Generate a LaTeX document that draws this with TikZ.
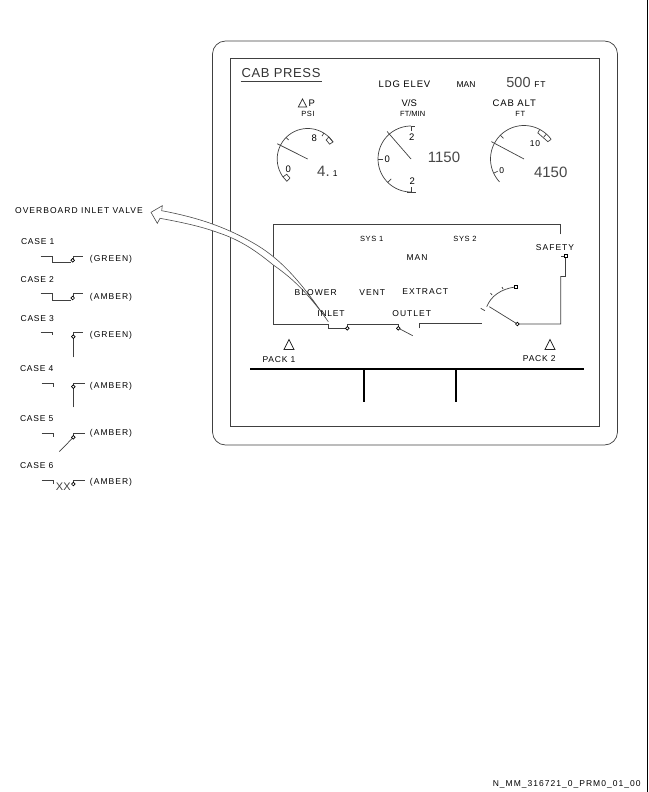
\documentclass[tikz,border=0pt]{standalone}
\usepackage{fontspec}
\setmainfont{Liberation Sans}
\newfontfamily\spA[LetterSpace=12]{Liberation Sans}
\newfontfamily\spB[LetterSpace=9]{Liberation Sans}
\newfontfamily\spC[LetterSpace=5]{Liberation Sans}
\newcommand\PP[4]{({#1+#3*cos(#4)},{#2-#3*sin(#4)})}
\newcommand\GArc[5]{\draw[ln] plot[smooth,domain=#4:#5,samples=40] ({#1+#3*cos(\x)},{#2-#3*sin(\x)});}
\newcommand\GTick[5]{\draw[ln] \PP{#1}{#2}{#3}{#5} -- \PP{#1}{#2}{#4}{#5};}
\newcommand\Tri[2]{\draw[ln,black!85] (#1-5,#2+5) -- (#1,#2-5) -- (#1+5,#2+5) -- cycle;}
\newcommand\TriS[2]{\draw[ln,black!85] (#1-4.2,#2+4) -- (#1,#2-4) -- (#1+4.2,#2+4) -- cycle;}
\newcommand\Knob[2]{\draw[ln,black,fill=white] (#1,#2) circle (1.8);}
\newcommand\Sq[2]{\draw[ln,black,fill=white] (#1-1.7,#2-1.7) rectangle (#1+1.7,#2+1.7);}
\tikzset{
  x=1pt,y=-1pt,
  ln/.style={line width=0.7pt,black!75},
  bar/.style={line width=2.3pt,black},
  tx/.style={inner sep=0pt,outer sep=0pt,anchor=center,black},
  fa/.style={tx,font=\spB\fontsize{7.5}{8}\selectfont},
  fb/.style={tx,font=\spA\fontsize{8.5}{9}\selectfont},
  fk/.style={tx,font=\spB\fontsize{8.5}{9}\selectfont},
  fc/.style={tx,font=\spB\fontsize{9.5}{10}\selectfont},
  fg/.style={tx,font=\fontsize{9.5}{10}\selectfont},
  fd/.style={tx,black!80,font=\spC\fontsize{13}{14}\selectfont},
  fe/.style={tx,black!72,font=\fontsize{15}{16}\selectfont},
}
\begin{document}
\begin{tikzpicture}
\useasboundingbox (0,0) rectangle (648,792);
% page edge and panel
\draw[line width=1pt,black] (647.3,0) -- (647.3,792);
\draw[ln,rounded corners=13pt] (212.5,41) rectangle (617.5,445);
\draw[ln] (230.5,58.5) rectangle (599,426);
% title
\node[fd] (title) at (281,73) {CAB PRESS};
\draw[ln] (240.5,81.7) -- (321.5,81.7);
\node[fc] (ldg) at (404.5,84.5) {LDG ELEV};
\node[fg,font=\fontsize{8.5}{9}\selectfont] (man1) at (466,85) {MAN};
\node[fe] (elev) at (518.5,82.5) {\fontsize{14.5}{15}\selectfont 500};
\node[fk] (elevft) at (540,85) {FT};
% gauge headers
\TriS{302.5}{103}
\node[fg] (dp) at (311.7,103.3) {P};
\node[fa] (psi) at (308,114.3) {PSI};
\node[fg] (vs) at (409.3,103.3) {V/S};
\node[tx,font=\fontsize{7.5}{8}\selectfont] (ftmin) at (412.7,114.3) {FT/MIN};
\node[fc] (cabalt) at (514.3,103.3) {CAB ALT};
\node[fa] (cabft) at (520.3,114.3) {FT};
% gauge 1
\GArc{307.7}{159}{30.5}{216}{34}
\GTick{307.7}{159}{0}{34}{153.4}
\GTick{307.7}{159}{27}{30.5}{135}
\GTick{307.7}{159}{27}{30.5}{58}
\draw[ln] \PP{307.7}{159}{30.5}{34} -- \PP{307.7}{159}{26.5}{34} -- \PP{307.7}{159}{26.5}{46} -- \PP{307.7}{159}{30.5}{46} -- cycle;
\draw[ln] \PP{307.7}{159}{30.5}{216} -- \PP{307.7}{159}{26}{216} -- \PP{307.7}{159}{26}{227} -- \PP{307.7}{159}{30.5}{227} -- cycle;
\node[fg] (g1a) at (288.3,169) {0};
\node[fg] (g1b) at (314.3,138.3) {8};
\node[fe] (g1c) at (323.5,171.5) {4.};
\node[fk] (g1d) at (335.3,173.3) {1};
% gauge 2
\GArc{411}{159}{33}{90}{270}
\GTick{411}{159}{0}{36.5}{131}
\GTick{411}{159}{28}{33}{90}
\GTick{411}{159}{28}{33}{180}
\GTick{411}{159}{28}{33}{225}
\GTick{411}{159}{28}{33}{270}
\draw[ln] (411,126) -- (415,126);
\draw[ln] (407,192) -- (416,192);
\node[fg] (g2a) at (411.7,136.7) {2};
\node[fg] (g2b) at (387.3,159.3) {0};
\node[fg] (g2c) at (412.3,181) {2};
\node[fe] (g2d) at (444,157.3) {1150};
% gauge 3
\GArc{524}{159}{33.5}{223}{36}
\GTick{524}{159}{0}{37}{152}
\GTick{524}{159}{29}{33.5}{135}
\GTick{524}{159}{29}{33.5}{205}
\draw[ln] \PP{524}{159}{33.5}{36} -- \PP{524}{159}{29.5}{36} -- \PP{524}{159}{29.5}{62} -- \PP{524}{159}{33.5}{62};
\GTick{524}{159}{29.5}{33.5}{48}
\node[fk] (g3a) at (501.7,170.7) {0};
\node[fk] (g3b) at (535,144) {10};
\node[fe] (g3c) at (550.7,172.3) {4150};
% system box
\draw[ln] (560.7,234.3) -- (560.7,224.3) -- (273.3,224.3) -- (273.3,324) -- (328.3,324) -- (328.3,328.3) -- (347.3,328.3) -- (347.3,324) -- (398.3,324) -- (398.3,328.3);
\draw[ln] (419,328.3) -- (419,323.5) -- (482.3,323.5);
\draw[ln] (400,329) -- (412.7,335.7);
\Knob{347.3}{328.3}
\Knob{398.3}{328.3}
\draw[ln] (560.7,276) -- (565.7,276) -- (565.7,256) -- (561,256);
\draw[ln] (560.7,276) -- (560.7,324) -- (517.3,324) -- (489.3,306.7);
\Sq{565.7}{256}
\Knob{517.3}{324}
\draw[ln] (480.7,308.3) -- (485,310.7);
\draw[ln] (486.7,306.7) .. controls (491,296) and (501,289) .. (515,287);
\draw[ln] (492,295) -- (490.5,293);
\draw[ln] (503,289) -- (502,287);
\Sq{516}{286.7}
% arrow
\draw[line width=0.6pt,black!70,fill=white] (151,212.3) -- (162.3,205.7) -- (161.7,210.7)
  .. controls (195,217) and (225,226) .. (256.7,245)
  .. controls (285,262) and (305,288) .. (328.3,321.7)
  .. controls (310,296) and (295,280) .. (273.3,265)
  .. controls (255,250) and (240,240) .. (218.3,232.7)
  .. controls (200,226) and (180,222) .. (160,218.3)
  -- (157.3,223.3) -- cycle;
% system labels
\node[fa] (s1) at (371.7,238.7) {SYS 1};
\node[fa] (s2) at (465,238.7) {SYS 2};
\node[fb] (man2) at (417,257.7) {MAN};
\node[fb] (safety) at (555,247.3) {SAFETY};
\node[fb] (blower) at (315.7,292.7) {BLOWER};
\node[fb] (vent) at (372.3,292.7) {VENT};
\node[fb] (extract) at (425.3,291.3) {EXTRACT};
\node[fk] (inlet) at (331,313.7) {INLET};
\node[fb] (outlet) at (411.7,313.7) {OUTLET};
% packs
\Tri{289}{344.5}
\Tri{550}{344.5}
\node[fk] (p1) at (279,359.7) {PACK 1};
\node[fk] (p2) at (539.3,359) {PACK 2};
\draw[bar] (250,368.7) -- (584.3,368.7);
\draw[bar] (364.3,368.7) -- (364.3,401.7);
\draw[bar] (456.3,368.7) -- (456.3,401.7);
% legend
\node[fb] (ov) at (79,211) {OVERBOARD INLET VALVE};
\node[fk] (c1) at (37.7,242) {CASE 1};
\draw[ln] (40.7,256) -- (52.7,256) -- (52.7,262.7) -- (71,262.7);
\draw[ln] (73,260) -- (73,256) -- (83,256);
\Knob{72.7}{260.3}
\node[fb] (c1t) at (111,259.3) {(GREEN)};
\node[fk] (c2) at (37.3,280) {CASE 2};
\draw[ln] (40.7,293.3) -- (52.7,293.3) -- (52.7,300.3) -- (71,300.3);
\draw[ln] (73,298) -- (73,293.3) -- (83,293.3);
\Knob{72.7}{298}
\node[fb] (c2t) at (111,297.3) {(AMBER)};
\node[fk] (c3) at (37.3,318.3) {CASE 3};
\draw[ln] (40.7,332.3) -- (52.7,332.3) -- (52.7,335);
\draw[ln] (73.3,357.3) -- (73.3,332.3) -- (83,332.3);
\Knob{73.3}{336.7}
\node[fb] (c3t) at (111,335) {(GREEN)};
\node[fk] (c4) at (36.7,369) {CASE 4};
\draw[ln] (41.5,383.3) -- (53.3,383.3) -- (53.3,387.3);
\draw[ln] (73.3,407.3) -- (73.3,383.3) -- (85,383.3);
\Knob{73.3}{386.7}
\node[fb] (c4t) at (111,386) {(AMBER)};
\node[fk] (c5) at (36.7,419) {CASE 5};
\draw[ln] (41.5,433.3) -- (53.3,433.3) -- (53.3,437.3);
\draw[ln] (73.3,437.3) -- (73.3,433.3) -- (85,433.3);
\draw[ln] (73.3,437.3) -- (59.3,451.7);
\Knob{73.3}{437.3}
\node[fb] (c5t) at (111,433.3) {(AMBER)};
\node[fk] (c6) at (36.7,466) {CASE 6};
\draw[ln] (41.5,480.7) -- (53.3,480.7) -- (53.3,484.3);
\draw[ln] (73.3,484) -- (73.3,480.7) -- (85,480.7);
\Knob{73.3}{484}
\node[tx,black!75,font=\fontsize{11}{12}\selectfont] (xx) at (63.3,487) {XX};
\node[fb] (c6t) at (111,482.7) {(AMBER)};
% reference
\node[fb] (refno) at (566.7,784) {N\_MM\_316721\_0\_PRM0\_01\_00};
\end{tikzpicture}
\end{document}
